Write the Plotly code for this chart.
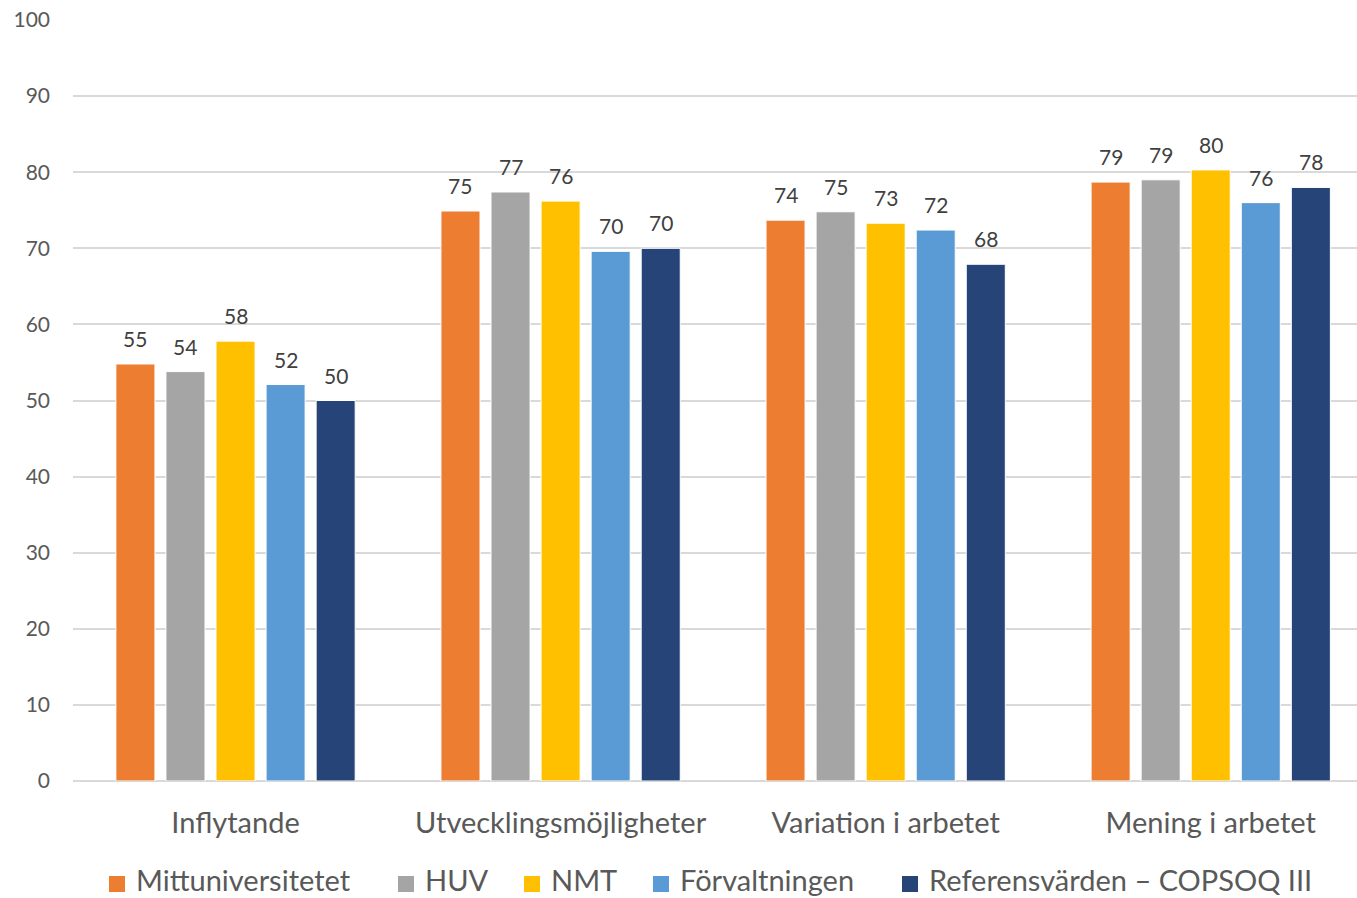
import plotly.graph_objects as go

# Categories (COPSOQ dimensions) and the score per organisational unit
categories = ["Inflytande", "Utvecklingsmöjligheter", "Variation i arbetet", "Mening i arbetet"]
series_names = ["Mittuniversitetet", "HUV", "NMT", "Förvaltningen", "Referensvärden – COPSOQ III"]
mittuniversitetet = [54.8, 74.9, 73.7, 78.7]
huv = [53.8, 77.4, 74.8, 79.0]
nmt = [57.8, 76.2, 73.3, 80.3]
forvaltningen = [52.1, 69.6, 72.4, 76.0]
referens = [50.0, 70.0, 67.9, 78.0]
y_ticks = [0, 10, 20, 30, 40, 50, 60, 70, 80, 90, 100]

values = [mittuniversitetet, huv, nmt, forvaltningen, referens]
colors = ["#ED7D31", "#A5A5A5", "#FFC000", "#5B9BD5", "#264478"]

FONT = "Lato"
BARGAP = 0.23
BARGROUPGAP = 0.22

W, H = 1357, 898
M_L, M_R, M_T, M_B = 73, 0, 20, 117
PLOT_W = W - M_L - M_R
PLOT_H = H - M_T - M_B


def px_x(px):
    return (px - M_L) / PLOT_W


def px_y(py):
    return (H - M_B - py) / PLOT_H


fig = go.Figure()
for name, vals, col in zip(series_names, values, colors):
    fig.add_trace(go.Bar(
        name=name, x=categories, y=vals,
        marker=dict(color=col, line=dict(color="white", width=1)),
    ))

# value labels above each bar, placed at the centre of its slot in the group
n = len(series_names)
slot = (1 - BARGAP) / n
for i, vals in enumerate(values):
    for j, v in enumerate(vals):
        fig.add_annotation(
            x=j - (1 - BARGAP) / 2 + slot * (i + 0.5), y=v,
            xref="x", yref="y", text=f"{v:.0f}", showarrow=False,
            yanchor="bottom", yshift=11,
            font=dict(family=FONT, size=21, color="#404040"),
        )

# legend row along the bottom edge: colour square followed by the series name
legend_left = [109, 398, 524, 653, 902]
SQ = 16
SQ_TOP = 876
TEXT_MID = 879
for name, col, left in zip(series_names, colors, legend_left):
    fig.add_shape(
        type="rect", xref="paper", yref="paper",
        x0=px_x(left), x1=px_x(left + SQ), y0=px_y(SQ_TOP + SQ), y1=px_y(SQ_TOP),
        fillcolor=col, line=dict(width=0),
    )
    fig.add_annotation(
        xref="paper", yref="paper", x=px_x(left + SQ + 9), y=px_y(TEXT_MID),
        text=name, showarrow=False, xanchor="left", yanchor="middle",
        font=dict(family=FONT, size=29, color="#595959"),
    )

fig.update_layout(
    width=W, height=H,
    margin=dict(l=M_L, r=M_R, t=M_T, b=M_B, autoexpand=False),
    paper_bgcolor="white", plot_bgcolor="white",
    barmode="group", bargap=BARGAP, bargroupgap=BARGROUPGAP,
    font=dict(family=FONT, color="#595959"),
    showlegend=False,
)
fig.update_xaxes(
    type="category", range=[-0.5, 3.45],
    showgrid=False, showline=False, zeroline=False,
    ticks="", ticklabelstandoff=22,
    tickfont=dict(family=FONT, size=29, color="#595959"),
)
fig.update_yaxes(
    range=[0, 100], tickvals=y_ticks,
    showgrid=True, gridcolor="#D9D9D9", gridwidth=1.5,
    zeroline=True, zerolinecolor="#D9D9D9", zerolinewidth=1.5,
    showline=False, ticks="", ticklabelstandoff=22,
    tickfont=dict(family=FONT, size=21, color="#595959"),
)

fig.write_html("out.html")
